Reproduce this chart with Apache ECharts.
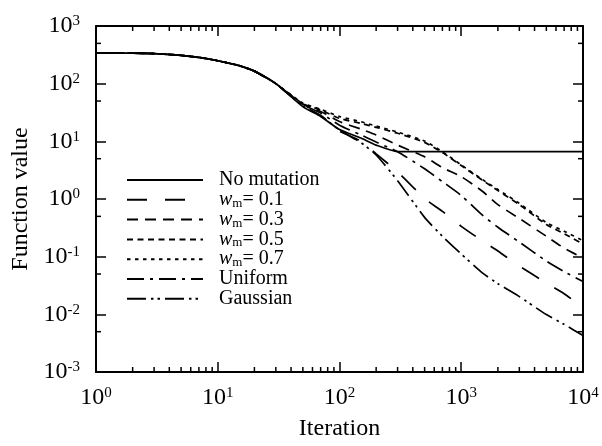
<!DOCTYPE html>
<html>
<head>
<meta charset="utf-8">
<script src="https://cdn.jsdelivr.net/npm/echarts@6/dist/echarts.min.js"></script>
<style>html,body{margin:0;padding:0;background:#fff;}#c{width:602px;height:446px;}</style>
</head>
<body>
<div id="c"></div>
<script>
const iterations = [1,2,3,5,7,10,15,20,30,50,70,100,150,200,300,500,700,1000,1500,2000,3000,5000,7000,10000];
const noMutation = [340,338,332,310,285,250,205,165,100,40,27,16,11.4,8.6,6.64,6.64,6.64,6.64,6.64,6.64,6.64,6.64,6.64,6.64];
const wm01 = [340,338,332,310,285,250,205,165,100,41,28,15,10.1,6.05,2.97,1.02,0.61,0.336,0.186,0.125,0.069,0.035,0.0228,0.0131];
const wm03 = [340,338,332,310,285,250,205,165,100,44,33,22,16.3,12.9,8.6,5.4,3.5,2.44,1.35,0.80,0.46,0.226,0.141,0.095];
const wm05 = [340,338,332,310,285,250,205,165,100,45,35,25,20.5,17.5,13.8,9.6,6.4,3.8,2.1,1.4,0.80,0.36,0.25,0.165];
const wm07 = [340,338,332,310,285,250,205,165,100,46,36,27,21.9,18.4,14.5,10.1,6.6,3.9,2.16,1.46,0.84,0.39,0.276,0.19];
const uniform = [340,338,332,310,285,250,205,165,100,43,31,19,12.9,9.7,6.6,3.34,2.0,1.15,0.52,0.324,0.179,0.084,0.055,0.037];
const gaussian = [340,338,332,310,285,250,205,165,100,41,28,15.7,9.5,5.8,2.08,0.48,0.226,0.111,0.052,0.034,0.0203,0.0099,0.0067,0.0043];

const seriesNames = ['No mutation','wm= 0.1','wm= 0.3','wm= 0.5','wm= 0.7','Uniform','Gaussian'];
const seriesValues = [noMutation, wm01, wm03, wm05, wm07, uniform, gaussian];
const dashTypes = ['solid',[20,18],[11,7],[6,4.5],[3.5,4.5],[17,6,3,6],[19,5,2.5,4,2.5,5]];

const xMinor = [2,3,4,5,6,7,8,9,20,30,40,50,60,70,80,90,200,300,400,500,600,700,800,900,2000,3000,4000,5000,6000,7000,8000,9000];
const yMinor = [0.005,0.05,0.5,5,50,500];

const FONT = "'Liberation Serif', 'Times New Roman', serif";
const chart = echarts.init(document.getElementById('c'), null, {renderer:'canvas'});

const labelRich = {
  b: {fontFamily: FONT, fontSize: 24, color: '#000', lineHeight: 24},
  s: {fontFamily: FONT, fontSize: 15, color: '#000', verticalAlign: 'top', lineHeight: 15, padding: [0,0,10,0]}
};
const expFmt = v => '{b|10}{s|' + Math.round(Math.log10(v)) + '}';

function axisCommon(extra) {
  return Object.assign({
    type: 'log', logBase: 10,
    axisLine: {show: true, onZero: false, lineStyle: {color: '#000', width: 2}},
    axisTick: {show: true, inside: true, length: 10, lineStyle: {color: '#000', width: 1.5}},
    splitLine: {show: false},
    minorTick: {show: false}
  }, extra);
}

const series = seriesNames.map((n, i) => ({
  name: n,
  type: 'line',
  data: iterations.map((x, j) => [x, seriesValues[i][j]]),
  symbol: 'none',
  showSymbol: false,
  smooth: 0.2,
  lineStyle: {color: '#000', width: 1.7, type: dashTypes[i]},
  itemStyle: {color: '#000'},
  z: 3,
  xAxisIndex: 0, yAxisIndex: 0
}));

series.push({
  type: 'custom', name: 'xminor', xAxisIndex: 0, yAxisIndex: 0, silent: true, z: 4,
  data: xMinor.map(v => [v, 1]),
  renderItem: (params, api) => {
    const x = api.value(0);
    const b = api.coord([x, 0.001]);
    const t = api.coord([x, 1000]);
    const st = {stroke: '#000', lineWidth: 1.5};
    return {type: 'group', children: [
      {type: 'line', shape: {x1: b[0], y1: b[1], x2: b[0], y2: b[1] - 5}, style: st},
      {type: 'line', shape: {x1: t[0], y1: t[1], x2: t[0], y2: t[1] + 5}, style: st}
    ]};
  }
});
series.push({
  type: 'custom', name: 'yminor', xAxisIndex: 0, yAxisIndex: 0, silent: true, z: 4,
  data: yMinor.map(v => [10, v]),
  renderItem: (params, api) => {
    const y = api.value(1);
    const l = api.coord([1, y]);
    const r = api.coord([10000, y]);
    const st = {stroke: '#000', lineWidth: 1.5};
    return {type: 'group', children: [
      {type: 'line', shape: {x1: l[0], y1: l[1], x2: l[0] + 5, y2: l[1]}, style: st},
      {type: 'line', shape: {x1: r[0], y1: r[1], x2: r[0] - 5, y2: r[1]}, style: st}
    ]};
  }
});

const option = {
  animation: false,
  backgroundColor: '#fff',
  grid: {left: 96, right: 19, top: 26, bottom: 71, containLabel: false},
  xAxis: [
    axisCommon({position: 'bottom', min: 1, max: 10000,
      axisLabel: {show: true, margin: 14, formatter: expFmt, rich: labelRich},
      name: 'Iteration', nameLocation: 'middle', nameGap: 45,
      nameTextStyle: {fontFamily: FONT, fontSize: 24, color: '#000'}}),
    axisCommon({position: 'top', min: 1, max: 10000, axisLabel: {show: false}})
  ],
  yAxis: [
    axisCommon({position: 'left', min: 0.001, max: 1000,
      axisLabel: {show: true, margin: 16, formatter: expFmt, rich: labelRich},
      name: 'Function value', nameLocation: 'middle', nameGap: 62,
      nameTextStyle: {fontFamily: FONT, fontSize: 24, color: '#000'}}),
    axisCommon({position: 'right', min: 0.001, max: 1000, axisLabel: {show: false}})
  ],
  legend: {
    show: true, orient: 'vertical', left: 126, top: 170, padding: 0,
    data: seriesNames, itemWidth: 76, itemHeight: 14, itemGap: -0.2,
    selectedMode: false,
    itemStyle: {color: 'rgba(0,0,0,0)', borderColor: 'rgba(0,0,0,0)', borderWidth: 0, opacity: 0},
    formatter: n => n.startsWith('wm') ? '{sp|}{w|w}{m|m}{t|' + n.slice(2) + '}' : '{sp|}{t|' + n + '}',
    textStyle: {
      fontFamily: FONT, fontSize: 20, color: '#000',
      rich: {
        sp: {width: 11},
        t: {fontFamily: FONT, fontSize: 20, color: '#000'},
        w: {fontFamily: FONT, fontSize: 20, fontStyle: 'italic', color: '#000'},
        m: {fontFamily: FONT, fontSize: 13, color: '#000', verticalAlign: 'bottom', lineHeight: 13}
      }
    }
  },
  series: series
};
chart.setOption(option);
</script>
</body>
</html>
